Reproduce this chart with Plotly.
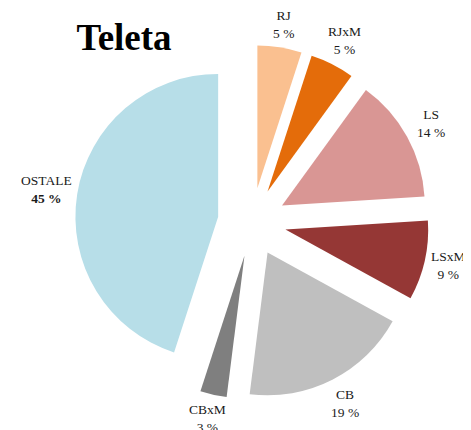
import math
import plotly.graph_objects as go

labels = ["RJ", "RJxM", "LS", "LSxM", "CB", "CBxM", "OSTALE"]
values = [5, 5, 14, 9, 19, 3, 45]
colors = ["#FAC090", "#E46C0A", "#D99694", "#953735", "#BFBFBF", "#7F7F7F", "#B7DEE8"]
bold_pct = [False, False, False, False, False, False, True]

PULL = 0.24
W, H = 471, 430
ML, MR, MT, MB = 67, 50, 37, 39
PW, PH = W - ML - MR, H - MT - MB
FONT_SIZE = 13.5

fig = go.Figure(go.Pie(
    labels=labels,
    values=values,
    textinfo="none",
    sort=False,
    direction="clockwise",
    rotation=0,
    pull=PULL,
    marker=dict(colors=colors, line=dict(width=0)),
    showlegend=False,
    hoverinfo="label+percent",
))

# label placement along each slice's mid-angle, box edge a small gap outside the slice
total = sum(values)
radius_px = min(PW, PH) / 2 / (1 + PULL)
outer = radius_px * (1 + PULL)
gap = 4
half_h = 1.3 * FONT_SIZE
cum = 0
annotations = []
for lab, v, b in zip(labels, values, bold_pct):
    mid = (cum + v / 2) / total * 2 * math.pi
    cum += v
    pct = f"{v} %"
    half_w = 0.5 * 0.62 * FONT_SIZE * max(len(lab), len(pct))
    extent = abs(math.sin(mid)) * half_w + abs(math.cos(mid)) * half_h
    dist = outer + gap + extent
    if b:
        pct = f"<b>{pct}</b>"
    annotations.append(dict(
        text=f"{lab}<br>{pct}",
        x=0.5 + dist * math.sin(mid) / PW,
        y=0.5 + dist * math.cos(mid) / PH,
        xref="paper", yref="paper",
        xanchor="center", yanchor="middle",
        showarrow=False,
        font=dict(family="Liberation Serif", size=FONT_SIZE, color="#1a1a1a"),
    ))

fig.update_layout(
    width=W, height=H,
    margin=dict(l=ML, r=MR, t=MT, b=MB),
    paper_bgcolor="white",
    plot_bgcolor="white",
    annotations=annotations,
    title=dict(
        text="<b>Teleta</b>",
        font=dict(family="Liberation Serif", size=37, color="black"),
        x=116/471, xanchor="center", xref="container",
        y=1-29/430, yanchor="middle", yref="container",
    ),
)

fig.write_html("out.html")
